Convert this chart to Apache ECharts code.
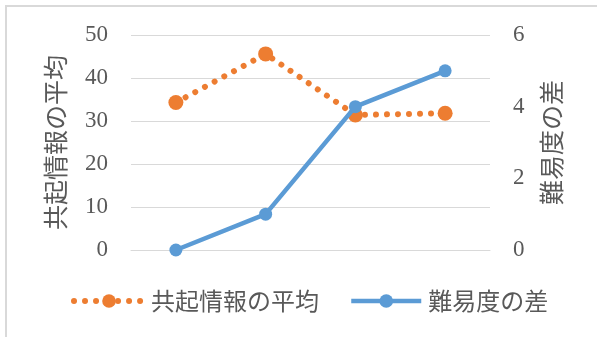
<!DOCTYPE html>
<html>
<head>
<meta charset="utf-8">
<script src="https://cdn.jsdelivr.net/npm/echarts@6/dist/echarts.min.js"></script>
<style>
  html, body { margin: 0; padding: 0; background: #fff; }
  #chart { width: 597px; height: 337px; }
</style>
</head>
<body>
<div id="chart"></div>
<script>
// Four measurement groups (no x labels are shown)
const categories = ['1', '2', '3', '4'];
// 共起情報の平均 (left axis, 0–50)
const cooccurrenceAvg = [34.3, 45.6, 31.4, 31.8];
// 難易度の差 (right axis, 0–6)
const difficultyDiff = [0, 1, 4, 5];

const leftName = '共起情報の平均';
const rightName = '難易度の差';

const numFont = '"Liberation Serif", "DejaVu Serif", serif';
const jpFont = '"Noto Sans CJK JP", "Noto Sans", sans-serif';
const textColor = '#595959';
const orange = '#ED7D31';
const blue = '#5B9BD5';

const orangeLine = { color: orange, width: 6, type: [0.01, 11], cap: 'round' };
const blueLine = { color: blue, width: 4.5, type: 'solid' };

const chart = echarts.init(document.getElementById('chart'), null, { renderer: 'canvas' });

chart.setOption({
  backgroundColor: '#ffffff',
  animation: false,
  graphic: [{
    type: 'rect',
    shape: { x: 6, y: 6, width: 700, height: 400 },
    style: { fill: 'none', stroke: '#D9D9D9', lineWidth: 2 },
    silent: true
  }],
  grid: { left: 131, right: 107, top: 35, bottom: 87 },
  legend: {
    left: 66,
    top: 284,
    itemWidth: 70,
    itemHeight: 17,
    itemGap: 30,
    textStyle: { fontFamily: jpFont, fontSize: 24, color: textColor, padding: [0, 0, 0, 2] },
    data: [
      { name: leftName, lineStyle: { width: 6, type: [0.01, 11], cap: 'round', color: orange } },
      { name: rightName, lineStyle: { width: 4.5, type: 'solid', color: blue } }
    ]
  },
  xAxis: {
    type: 'category',
    data: categories,
    boundaryGap: true,
    axisLine: { show: true, lineStyle: { color: '#D9D9D9', width: 1 } },
    axisTick: { show: false },
    axisLabel: { show: false }
  },
  yAxis: [{
    type: 'value',
    min: 0, max: 50, interval: 10,
    name: leftName,
    nameLocation: 'middle',
    nameRotate: 90,
    nameGap: 63,
    nameTextStyle: { fontFamily: jpFont, fontSize: 25, color: textColor },
    axisLine: { show: false },
    axisTick: { show: false },
    axisLabel: { margin: 23, fontFamily: numFont, fontSize: 23, color: textColor },
    splitLine: { lineStyle: { color: '#D9D9D9', width: 1 } }
  }, {
    type: 'value',
    position: 'right',
    min: 0, max: 6, interval: 2,
    name: rightName,
    nameLocation: 'middle',
    nameRotate: 90,
    nameGap: 49,
    nameTextStyle: { fontFamily: jpFont, fontSize: 25, color: textColor },
    axisLine: { show: false },
    axisTick: { show: false },
    axisLabel: { margin: 23, fontFamily: numFont, fontSize: 23, color: textColor },
    splitLine: { show: false }
  }],
  series: [{
    name: leftName,
    type: 'line',
    yAxisIndex: 0,
    data: cooccurrenceAvg,
    symbol: 'circle',
    symbolSize: 15,
    itemStyle: { color: orange },
    lineStyle: orangeLine,
    z: 2
  }, {
    name: rightName,
    type: 'line',
    yAxisIndex: 1,
    data: difficultyDiff,
    symbol: 'circle',
    symbolSize: 13,
    itemStyle: { color: blue },
    lineStyle: blueLine,
    z: 3
  }]
});
</script>
</body>
</html>
